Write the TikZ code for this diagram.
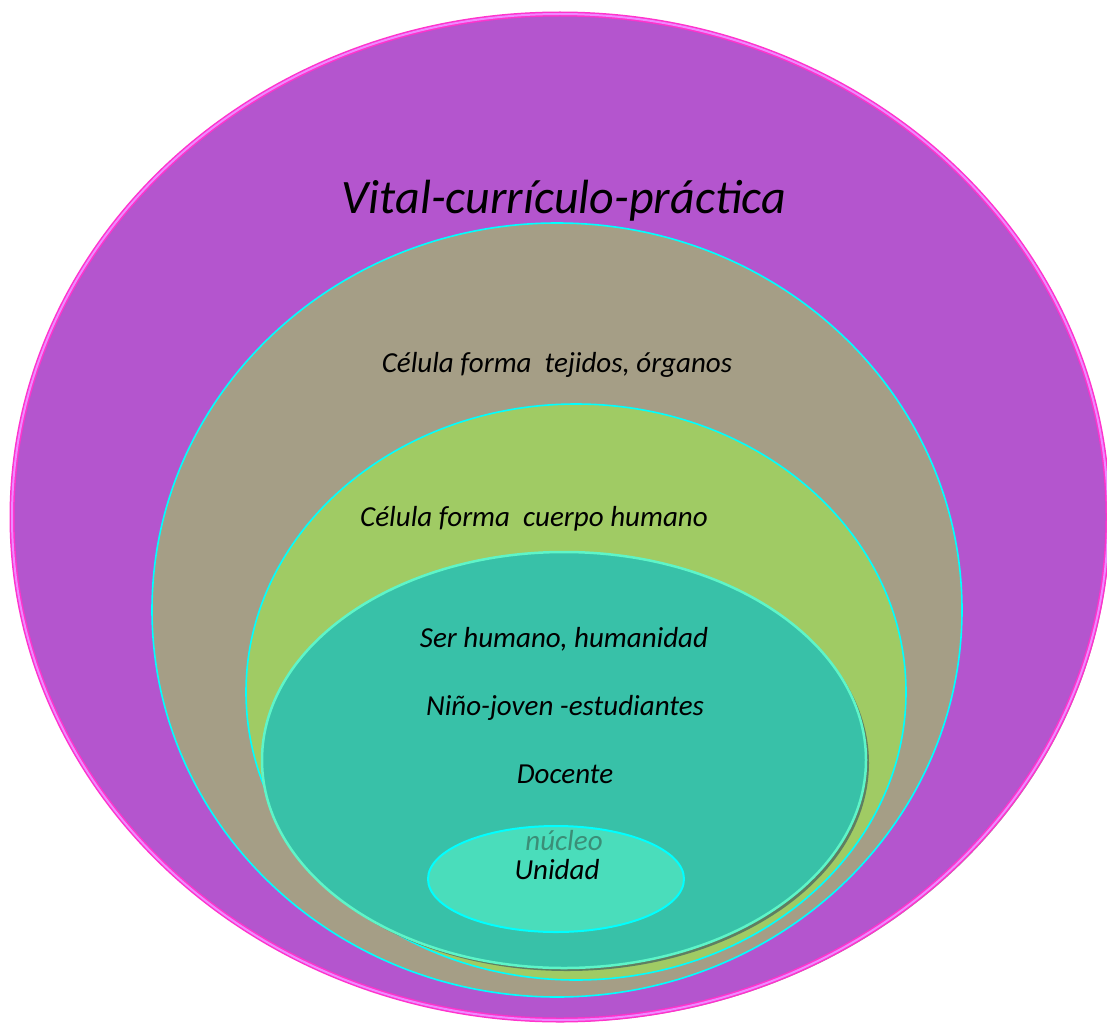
\documentclass[tikz,border=0pt]{standalone}
\usepackage{fontspec}
\setmainfont{Carlito}
\usetikzlibrary{shapes.geometric}
\definecolor{vitalfill}{HTML}{B455CE}
\definecolor{vitalline}{HTML}{FF33CC}
\definecolor{vitalinner}{HTML}{EE88FF}
\definecolor{tejidofill}{HTML}{A59E86}
\definecolor{cuerpofill}{HTML}{A0CB64}
\definecolor{humanofill}{HTML}{38C1A8}
\definecolor{humanoline}{HTML}{5EF5C8}
\definecolor{nucleofill}{HTML}{4ADDBB}
\definecolor{nucleotext}{HTML}{3B8E77}
\definecolor{aqualine}{HTML}{00FFFF}
\definecolor{shadowgray}{HTML}{9A9AA0}
\definecolor{shadowgreen}{HTML}{5E7F62}
\tikzset{
	layer/.style={ellipse, inner sep=0pt, line width=1.6pt},
	lbl/.style={font=\itshape\fontsize{29}{34}\selectfont, anchor=base, inner sep=0pt}
}
\begin{document}
\begin{tikzpicture}[x=1pt, y=-1pt]
		\useasboundingbox (0,0) rectangle (1107,1022);
		%shadows
		\node (vital shadow) at (562,519) [layer, fill=shadowgray, minimum width=1096pt, minimum height=1006pt]{};
		
		%layers' nodes
		\node (vital) at (560,517) [layer, fill=vitalfill, draw=vitalline, double=vitalinner, double distance=2pt, line width=1.5pt, minimum width=1096pt, minimum height=1006pt]{};
		\node (tejidos) at (557,610) [layer, fill=tejidofill, draw=aqualine, minimum width=810pt, minimum height=774pt]{};
		\node (cuerpo) at (576,692) [layer, fill=cuerpofill, draw=aqualine, minimum width=660pt, minimum height=576pt]{};
		\node (humano shadow) at (567,763) [layer, fill=shadowgreen, minimum width=604pt, minimum height=416pt]{};
		\node (humano) at (564,760) [layer, fill=humanofill, draw=humanoline, line width=2.5pt, minimum width=604pt, minimum height=416pt]{};
		\node (unidad) at (556,879) [layer, fill=nucleofill, draw=aqualine, line width=2pt, minimum width=256pt, minimum height=106pt]{};
		
		%labels
		\node (vital text) at (564,213) [lbl, font=\itshape\fontsize{48}{56}\selectfont]{Vital-currículo-práctica};
		\node (tejidos text) at (557,372) [lbl]{Célula forma\ \ tejidos, órganos};
		\node (cuerpo text) at (534,526) [lbl]{Célula forma\ \ cuerpo humano};
		\node (humano text) at (564,647) [lbl]{Ser humano, humanidad};
		\node (nino text) at (565,715) [lbl]{Niño-joven -estudiantes};
		\node (docente text) at (565,783) [lbl]{Docente};
		\node (nucleo text) at (564,850) [lbl, text=nucleotext]{núcleo};
		\node (unidad text) at (557,879) [lbl]{Unidad};
		
		\end{tikzpicture}
\end{document}
